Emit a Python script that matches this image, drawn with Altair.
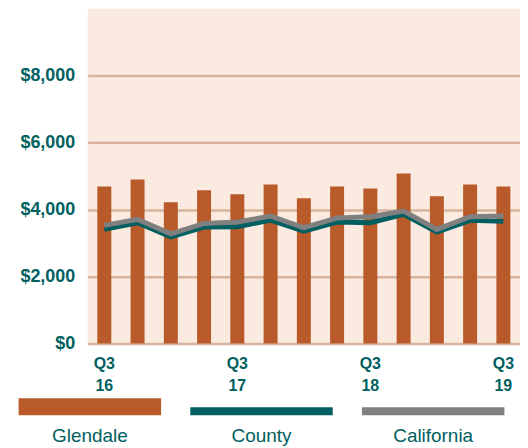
import altair as alt
import pandas as pd

quarters = ["Q3 16", "Q4 16", "Q1 17", "Q2 17", "Q3 17", "Q4 17", "Q1 18",
            "Q2 18", "Q3 18", "Q4 18", "Q1 19", "Q2 19", "Q3 19"]
glendale = [4690, 4900, 4220, 4580, 4460, 4750, 4340, 4690, 4630, 5080, 4400, 4750, 4690]
county = [3410, 3610, 3190, 3480, 3490, 3690, 3360, 3630, 3610, 3860, 3330, 3680, 3650]
california = [3530, 3710, 3280, 3590, 3630, 3810, 3460, 3750, 3790, 3960, 3410, 3790, 3810]

series = ["Glendale", "County", "California"]
colors = ["#B85A2A", "#005F60", "#808080"]
y_ticks = [0, 2000, 4000, 6000, 8000]

TEAL_TEXT = "#00605F"
FONT = "Liberation Sans"

df = pd.DataFrame({"quarter": quarters, "Glendale": glendale,
                   "County": county, "California": california})
leg = pd.DataFrame({"series": series})

xq = alt.X("quarter:N", sort=quarters, title=None,
           scale=alt.Scale(paddingInner=0.58, paddingOuter=0.29),
           axis=alt.Axis(labelAngle=0, domain=False, ticks=False, grid=False,
                         labelFont=FONT, labelFontSize=16, labelFontWeight="bold",
                         labelColor=TEAL_TEXT, labelPadding=12, labelLineHeight=22,
                         labelBaseline="top",
                         labelExpr="slice(datum.value,0,2)=='Q3' ? [slice(datum.value,0,2), slice(datum.value,3)] : ''"))

yscale = alt.Scale(domain=[0, 10000], nice=False)

bars = alt.Chart(df).mark_bar(color=colors[0]).encode(
    x=xq,
    y=alt.Y("Glendale:Q", scale=yscale, title=None,
            axis=alt.Axis(values=y_ticks, format="$,.0f", domain=False, ticks=False,
                          grid=True, gridColor="#D8B49C", gridWidth=2.5,
                          labelFont=FONT, labelFontSize=18, labelFontWeight="bold",
                          labelColor=TEAL_TEXT, labelPadding=13)),
)

county_line = alt.Chart(df).mark_line(color=colors[1], strokeWidth=5).encode(
    x=alt.X("quarter:N", sort=quarters),
    y=alt.Y("County:Q", scale=yscale),
)
cal_line = alt.Chart(df).mark_line(color=colors[2], strokeWidth=5).encode(
    x=alt.X("quarter:N", sort=quarters),
    y=alt.Y("California:Q", scale=yscale),
)

main = alt.layer(bars, county_line, cal_line)

lx = alt.X("series:N", sort=series, axis=None,
           scale=alt.Scale(range=[-84, 433], paddingInner=0.17, paddingOuter=0.085))
lcolor = alt.Color("series:N", scale=alt.Scale(domain=series, range=colors), legend=None)

leg_thick = alt.Chart(leg).transform_filter(
    alt.datum.series == "Glendale").mark_bar().encode(
    x=lx, y=alt.value(391), y2=alt.value(408), color=lcolor)
leg_thin = alt.Chart(leg).transform_filter(
    alt.datum.series != "Glendale").mark_bar().encode(
    x=lx, y=alt.value(400), y2=alt.value(408), color=lcolor)
leg_text = alt.Chart(leg).mark_text(font=FONT, fontSize=19, color=TEAL_TEXT,
                                    baseline="alphabetic").encode(
    x=lx, y=alt.value(435), text="series:N")

legend = alt.layer(leg_thick, leg_thin, leg_text)

chart = alt.layer(main, legend).resolve_scale(x="independent").properties(
    width=434, height=336,
    padding={"left": 10, "top": 0, "right": 0, "bottom": 0},
).configure_view(fill="#FBEAE0", strokeWidth=0)

chart.save("out.html", embed_options={"renderer": "svg", "actions": False})
